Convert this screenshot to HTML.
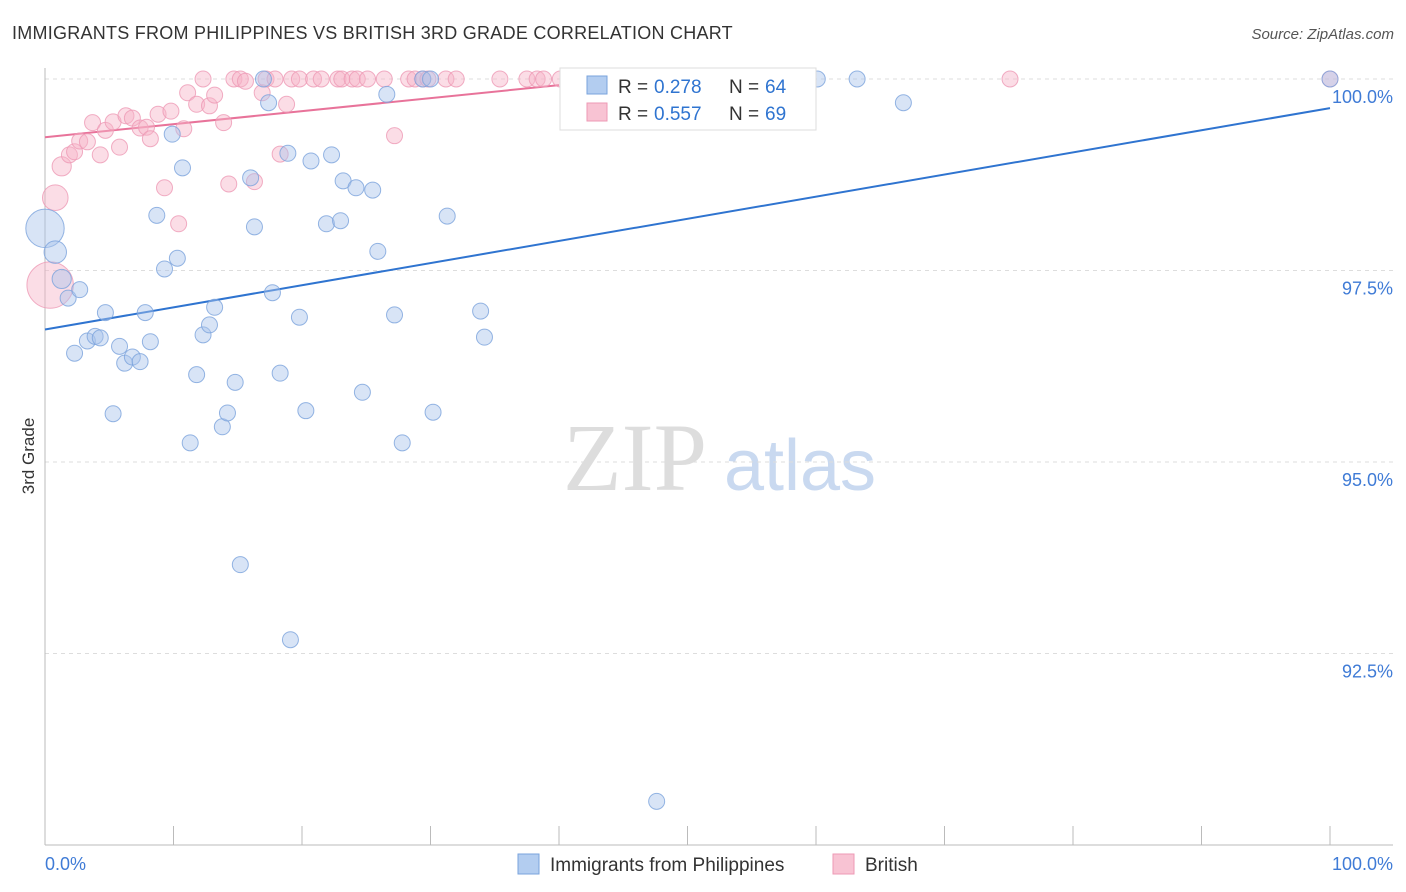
<!DOCTYPE html>
<html><head><meta charset="utf-8"><style>
body{margin:0;background:#fff;font-family:"Liberation Sans",sans-serif}
svg{display:block}
</style></head><body>
<svg id="chart" width="1406" height="892" xmlns="http://www.w3.org/2000/svg">
<text x="12" y="39" font-size="18" fill="#333" letter-spacing="0.25">IMMIGRANTS FROM PHILIPPINES VS BRITISH 3RD GRADE CORRELATION CHART</text>
<text x="1394" y="39" font-size="15" fill="#555" text-anchor="end" font-style="italic">Source: ZipAtlas.com</text>
<text x="34" y="456" font-size="17" fill="#333" text-anchor="middle" transform="rotate(-90 34 456)">3rd Grade</text>
<g><text x="635" y="490" font-size="96" fill="#ddd" text-anchor="middle" font-family="Liberation Serif,serif">ZIP</text><text x="800" y="490" font-size="72" fill="#c9d9f0" text-anchor="middle">atlas</text></g>
<g id="grid"></g><g id="axes"></g><g id="lines"></g><g id="pts"></g>
<g>
<rect x="560" y="68" width="256" height="62" fill="#fff" stroke="#ddd"/>
<rect x="587" y="76" width="20" height="18" fill="#b3cdf0" stroke="#7aa3dc"/>
<text x="618" y="93" font-size="19" fill="#333">R = </text><text x="654" y="93" font-size="19" fill="#2f74d0">0.278</text>
<text x="729" y="93" font-size="19" fill="#333">N = </text><text x="765" y="93" font-size="19" fill="#2f74d0">64</text>
<rect x="587" y="103" width="20" height="18" fill="#f8c3d3" stroke="#ee9ab5"/>
<text x="618" y="120" font-size="19" fill="#333">R = </text><text x="654" y="120" font-size="19" fill="#2f74d0">0.557</text>
<text x="729" y="120" font-size="19" fill="#333">N = </text><text x="765" y="120" font-size="19" fill="#2f74d0">69</text>
</g>
<g>
<rect x="518" y="854" width="21" height="20" fill="#b3cdf0" stroke="#7aa3dc"/>
<text x="550" y="871" font-size="19" fill="#333">Immigrants from Philippines</text>
<rect x="833" y="854" width="21" height="20" fill="#f8c3d3" stroke="#ee9ab5"/>
<text x="865" y="871" font-size="19" fill="#333">British</text>
</g>
</svg>
<script>
const blueX=[0,0.8,1.3,1.8,2.7,2.3,3.3,3.9,4.3,4.7,5.3,5.8,6.2,6.8,7.4,7.8,8.2,8.7,9.3,9.9,10.3,10.7,11.3,11.8,12.3,12.8,13.2,13.8,14.2,14.8,15.2,16.0,16.3,17.0,17.4,17.7,18.3,18.9,19.1,19.8,20.3,20.7,21.9,22.3,23.0,23.2,24.2,24.7,25.5,25.9,26.6,27.2,27.8,29.4,30.0,30.2,31.3,33.9,34.2,47.6,60.1,63.2,66.8,100];
const blueY=[98.05,97.74,97.39,97.14,97.25,96.42,96.58,96.64,96.62,96.95,95.63,96.51,96.29,96.37,96.31,96.95,96.57,98.22,97.52,99.28,97.66,98.84,95.25,96.14,96.66,96.79,97.02,95.46,95.64,96.04,93.66,98.71,98.07,100,99.69,97.21,96.16,99.03,92.68,96.89,95.67,98.93,98.11,99.01,98.15,98.67,98.58,95.91,98.55,97.75,99.80,96.92,95.25,100,100,95.65,98.21,96.97,96.63,90.57,100,100,99.69,100];
const blueSize=[2.4,1.4,1.2];
const pinkX=[0.4,0.8,1.3,1.9,2.3,2.7,3.3,3.7,4.3,4.7,5.3,5.8,6.3,6.8,7.4,7.9,8.2,8.8,9.3,9.8,10.4,10.8,11.1,11.8,12.3,12.8,13.2,13.9,14.3,14.7,15.2,15.6,16.3,16.9,17.2,17.9,18.3,18.8,19.2,19.8,20.9,21.5,22.8,23.1,23.9,24.3,25.1,26.4,27.2,28.3,28.8,29.4,29.8,31.2,32.0,35.4,37.5,38.3,38.8,40.1,47.5,52.1,75.1,100];
const pinkY=[97.31,98.45,98.86,99.01,99.05,99.19,99.18,99.43,99.01,99.33,99.44,99.11,99.52,99.49,99.36,99.37,99.22,99.54,98.58,99.58,98.11,99.35,99.82,99.67,100,99.65,99.79,99.43,98.63,100,100,99.97,98.66,99.82,100,100,99.02,99.67,100,100,100,100,100,100,100,100,100,100,99.26,100,100,100,100,100,100,100,100,100,100,100,100,100,100,100];
const pinkSize=[2.9,1.6,1.2];
const blueLine=[[0,96.73],[100,99.62]];
const pinkLine=[[0,99.24],[40,99.92]];
const yTicks=[92.5,95,97.5,100];
const yTickLabels=["92.5%","95.0%","97.5%","100.0%"];
const NS="http://www.w3.org/2000/svg";
const sx=v=>45+v*12.85, sy=v=>79+(100-v)*76.6;
function mk(p,t,a){const e=document.createElementNS(NS,t);for(const k in a)e.setAttribute(k,a[k]);p.appendChild(e);return e;}
const grid=document.getElementById('grid'),axes=document.getElementById('axes'),lines=document.getElementById('lines'),pts=document.getElementById('pts');
yTicks.forEach((t,i)=>{
 const g=mk(grid,'line',{x1:45,x2:1393,y1:sy(t),y2:sy(t),stroke:'#ddd','stroke-dasharray':'4,4'});
 
 
 const l=mk(axes,'text',{x:1393,y:sy(t)+24,'font-size':18,fill:'#3f7bd6','text-anchor':'end'});l.textContent=yTickLabels[i];
 
 
});
const ax=mk(axes,'line',{x1:45,x2:1393,y1:845,y2:845,stroke:'#bbb'});


const ay=mk(axes,'line',{x1:45,x2:45,y1:68,y2:845,stroke:'#bbb'});


for(let i=0;i<=10;i++){const t=mk(axes,'line',{x1:sx(i*10),x2:sx(i*10),y1:826,y2:845,stroke:'#bbb'});
 
 }
const x0=mk(axes,'text',{x:45,y:870,'font-size':18,fill:'#3f7bd6'});x0.textContent='0.0%';


const x1=mk(axes,'text',{x:1393,y:870,'font-size':18,fill:'#3f7bd6','text-anchor':'end'});x1.textContent='100.0%';


function drawPts(X,Y,S,fill,stroke,name){X.forEach((x,i)=>{
 const c=mk(pts,'circle',{cx:sx(x),cy:sy(Y[i]),r:8*(S[i]||1),fill:fill,'fill-opacity':0.45,stroke:stroke,'stroke-opacity':0.8,'stroke-width':1});
 
 
});}
drawPts(pinkX,pinkY,pinkSize,'#f6b3c8','#ee9ab5','british-point');
drawPts(blueX,blueY,blueSize,'#a9c4ea','#7aa3dc','philippines-point');
const bl=mk(lines,'line',{x1:sx(blueLine[0][0]),y1:sy(blueLine[0][1]),x2:sx(blueLine[1][0]),y2:sy(blueLine[1][1]),stroke:'#2f74d0','stroke-width':2});


const pl=mk(lines,'line',{x1:sx(pinkLine[0][0]),y1:sy(pinkLine[0][1]),x2:sx(pinkLine[1][0]),y2:sy(pinkLine[1][1]),stroke:'#e8739a','stroke-width':2});


</script>
</body></html>
